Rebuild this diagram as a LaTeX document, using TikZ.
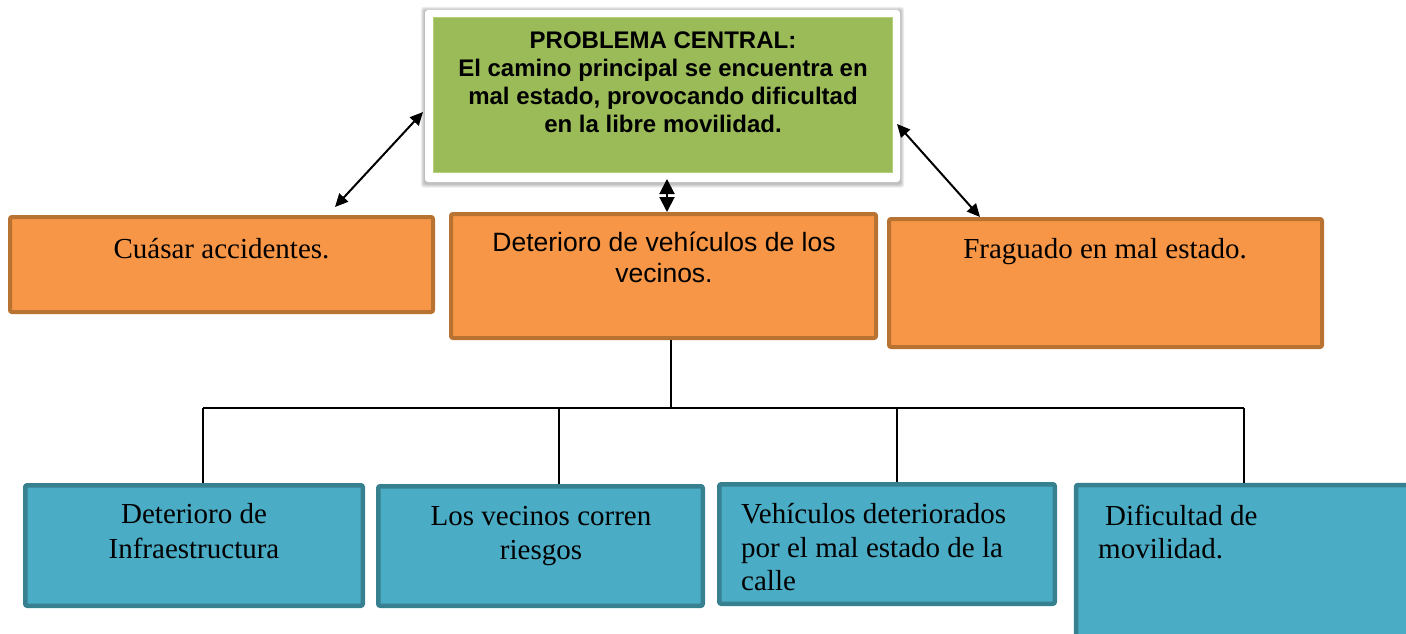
\documentclass[tikz,border=0pt]{standalone}
\usepackage{fontspec}
\setmainfont{Liberation Serif}
\newfontfamily\arialfont{Liberation Sans}
\usetikzlibrary{arrows.meta,backgrounds}
\definecolor{orfill}{HTML}{F79646}
\definecolor{ordraw}{HTML}{B87333}
\definecolor{blfill}{HTML}{4BACC6}
\definecolor{bldraw}{HTML}{37808F}
\definecolor{grfill}{HTML}{9BBB59}
\definecolor{grline}{HTML}{B5D27A}
\begin{document}
\begin{tikzpicture}[x=1pt,y=-1pt,
  obox/.style={draw=ordraw, fill=orfill, line width=4pt, rounded corners=2pt, inner sep=0pt},
  bbox/.style={draw=bldraw, fill=blfill, line width=4.5pt, rounded corners=2pt, inner sep=0pt},
  tnr/.style={font=\fontsize{29}{34}\selectfont, anchor=base, inner sep=0pt},
  tnrl/.style={tnr, anchor=base west},
  ari/.style={font=\arialfont\fontsize{26.5}{31}\selectfont, anchor=base, inner sep=0pt},
  arib/.style={font=\arialfont\bfseries\fontsize{24}{28}\selectfont, anchor=base, inner sep=0pt},
  tree/.style={line width=1.5pt, black},
  dbl/.style={line width=2pt, {Triangle[length=13pt,width=12pt]}-{Triangle[length=13pt,width=12pt]}},
  dblshort/.style={line width=2pt, {Triangle[length=15pt,width=15pt]}-{Triangle[length=15pt,width=15pt]}}
]
\useasboundingbox (0,0) rectangle (1406,634);
\clip (0,0) rectangle (1406,634);

% central problem
\node[fill=white, rounded corners=3pt, minimum width=475pt, minimum height=172pt, inner sep=0pt] (frame) at (662.5,96) {};
\begin{scope}[on background layer]
  \foreach \i in {1,2,3,4} {
    \fill[black, opacity=0.07, rounded corners=3pt]
      ([shift={(-\i,-\i+1)}]frame.north west) rectangle ([shift={(\i,\i+1.5)}]frame.south east);
  }
\end{scope}
\node[fill=grfill, draw=grline, line width=1pt, minimum width=459pt, minimum height=155pt, inner sep=0pt] (central) at (663,95) {};
\node[arib] (c1) at (663,49) {PROBLEMA CENTRAL:};
\node[arib] (c2) at (663,77) {El camino principal se encuentra en};
\node[arib] (c3) at (663,104.5) {mal estado, provocando dificultad};
\node[arib] (c4) at (663,132) {en la libre movilidad.};

% orange effects
\node[obox, minimum width=423pt, minimum height=95pt] (o1) at (221.5,264.5) {};
\node[obox, minimum width=425pt, minimum height=124pt] (o2) at (663.5,276) {};
\node[obox, minimum width=433pt, minimum height=128pt] (o3) at (1105.5,283) {};
\node[tnr] (o1t) at (221.5,258) {Cuásar accidentes.};
\node[ari] (o2t1) at (664,251) {Deterioro de vehículos de los};
\node[ari] (o2t2) at (664,282) {vecinos.};
\node[tnr] (o3t) at (1105,258) {Fraguado en mal estado.};

% blue boxes
\node[bbox, minimum width=337.5pt, minimum height=120.5pt] (b1) at (194,545.5) {};
\node[bbox, minimum width=324.5pt, minimum height=119.5pt] (b2) at (540.5,546) {};
\node[bbox, minimum width=335.5pt, minimum height=119.5pt] (b3) at (887,544) {};
\node[bbox, minimum width=362pt, minimum height=193pt] (b4) at (1257,581.5) {};
\node[tnr] (b1t1) at (194,523) {Deterioro de};
\node[tnr] (b1t2) at (194,558) {Infraestructura};
\node[tnr] (b2t1) at (541,525) {Los vecinos corren};
\node[tnr] (b2t2) at (541,559) {riesgos};
\node[tnrl] (b3t1) at (741,523) {Vehículos deteriorados};
\node[tnrl] (b3t2) at (741,557) {por el mal estado de la};
\node[tnrl] (b3t3) at (741,590) {calle};
\node[tnrl] (b4t1) at (1105,525) {Dificultad de};
\node[tnrl] (b4t2) at (1098,558) {movilidad.};

% tree connectors
\coordinate (hub) at (671,408);
\coordinate (d1) at (203,408);
\coordinate (d2) at (559,408);
\coordinate (d3) at (897,408);
\coordinate (d4) at (1244,408);
\draw[tree] (o2.south -| hub) -- (hub);
\draw[tree] (d1) -- (d4);
\draw[tree] (d1) -- (d1 |- b1.north);
\draw[tree] (d2) -- (d2 |- b2.north);
\draw[tree] (d3) -- (d3 |- b3.north);
\draw[tree] (d4) -- (d4 |- b4.north);

% double arrows
\coordinate (la) at (335,207);
\coordinate (lb) at (423,112);
\coordinate (ra) at (897,124);
\coordinate (rb) at (980,217);
\coordinate (ma) at (667,179);
\coordinate (mb) at (667,212);
\draw[dbl] (la) -- (lb);
\draw[dbl] (ra) -- (rb);
\draw[dblshort] (ma) -- (mb);
\end{tikzpicture}
\end{document}
